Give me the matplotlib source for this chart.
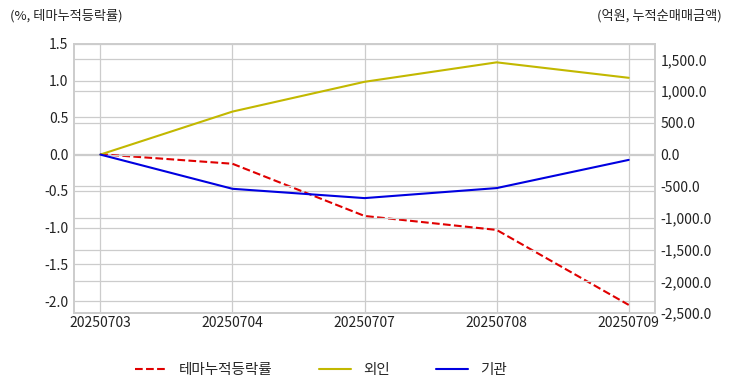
import matplotlib
matplotlib.use('Agg')
import matplotlib.pyplot as plt
from matplotlib.ticker import FuncFormatter, MultipleLocator
import numpy as np

plt.style.use('seaborn-v0_8-whitegrid')
plt.rcParams['font.family'] = ['Noto Sans CJK KR', 'DejaVu Sans']
plt.rcParams['axes.unicode_minus'] = False

dates = ['20250703', '20250704', '20250707', '20250708', '20250709']
theme_rate = [0.0, -0.13, -0.84, -1.03, -2.05]      # %
foreign = [0.0, 678.0, 1148.0, 1455.0, 1211.0]      # 억원
institution = [0.0, -540.0, -687.0, -529.0, -84.0]  # 억원

fig = plt.figure(figsize=(7.32, 3.92), dpi=100)
ax = fig.add_axes([0.101, 0.2015, 0.794, 0.6865])
ax2 = ax.twinx()

x = np.arange(len(dates))
l1, = ax.plot(x, theme_rate, color='#e00000', linestyle='--', lw=1.5, label='테마누적등락률')
l2, = ax2.plot(x, foreign, color='#c2b800', lw=1.5, label='외인')
l3, = ax2.plot(x, institution, color='#0000e0', lw=1.5, label='기관')

ax.set_xlim(-0.2, 4.2)
ax.set_xticks(x)
ax.set_xticklabels(dates)
ax.set_ylim(-2.16, 1.5)
ax.yaxis.set_major_locator(MultipleLocator(0.5))
ax.yaxis.set_major_formatter(FuncFormatter(lambda v, p: f'{v:.1f}'))

ax2.set_ylim(-2500, 1746)
ax2.set_yticks(np.arange(-2500, 1501, 500))
ax2.yaxis.set_major_formatter(FuncFormatter(lambda v, p: f'{v:,.1f}'))

for a in (ax, ax2):
    a.grid(True, color='#cccccc', lw=0.9)
    a.tick_params(labelsize=10, colors='#222222', length=0, pad=4)
    for s in a.spines.values():
        s.set_visible(True)
        s.set_color('#cccccc')
        s.set_linewidth(1.2)
ax2.grid(True, axis='y')
ax2.xaxis.grid(False)
ax.tick_params(axis='x', pad=2)

fig.text(10 / 732, 1 - 16 / 392, '(%, 테마누적등락률)', fontsize=9.5, color='#222222',
         ha='left', va='center')
fig.text(722 / 732, 1 - 16 / 392, '(억원, 누적순매매금액)', fontsize=9.5, color='#222222',
         ha='right', va='center')

fig.legend(handles=[l1, l2, l3], loc='center', bbox_to_anchor=(321 / 732, 1 - 370 / 392),
           ncol=3, frameon=False, fontsize=10.5, handlelength=2.2, columnspacing=3.2,
           handletextpad=0.8)

fig.savefig('out.png', dpi=100)
